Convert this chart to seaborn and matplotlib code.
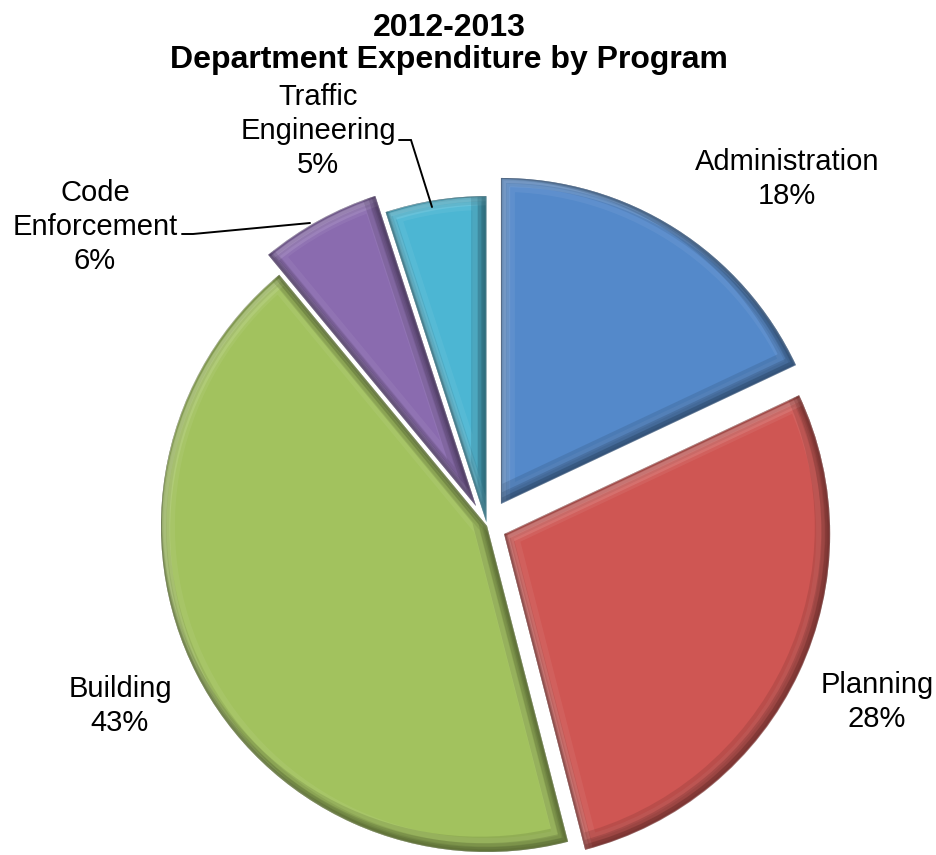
import matplotlib
matplotlib.use("Agg")
import matplotlib.pyplot as plt
import matplotlib.patches as mpatches
import matplotlib.transforms as mtransforms
import matplotlib.colors as mcolors
import seaborn as sns

# Expenditure share by program (percent), clockwise from 12 o'clock
programs = ["Administration", "Planning", "Building", "Code Enforcement", "Traffic Engineering"]
label_text = ["Administration", "Planning", "Building", "Code\nEnforcement", "Traffic\nEngineering"]
shares = [18, 28, 43, 6, 5]
# how far each slice is pulled out, as a fraction of the radius
explode_frac = [0.08, 0.058, 0.0, 0.07, 0.012]
slice_colors = ["#5489CA", "#CF5653", "#A2C25E", "#8A6BAF", "#4CB6D3"]

title = "2012-2013\nDepartment Expenditure by Program"

W, H = 937, 855

sns.set_theme(style="white")
plt.rcParams["font.family"] = ["Liberation Sans", "DejaVu Sans"]

fig = plt.figure(figsize=(W / 100, H / 100), dpi=100)
ax = fig.add_axes([0, 0, 1, 1])


def Y(y):
    """Convert a top-down pixel row to the axis' upward data coordinate."""
    return H - y


cx, cy, R = 487, Y(526), 326

# matplotlib's explode offset is in data units, so scale by the radius
wedges, _ = ax.pie(
    shares,
    explode=[e * R for e in explode_frac],
    colors=slice_colors,
    startangle=90,
    counterclock=False,
    center=(cx, cy),
    radius=R,
    wedgeprops=dict(edgecolor="white", linewidth=1.2),
)
ax.set_xlim(0, W)
ax.set_ylim(0, H)
ax.set_aspect("equal")
ax.axis("off")


def shade(color, f):
    r, g, b = mcolors.to_rgb(color)
    return (r * f, g * f, b * f)


def tint(color, f):
    r, g, b = mcolors.to_rgb(color)
    return (r + (1 - r) * f, g + (1 - g) * f, b + (1 - b) * f)


def edge_stroke(w, color, lw, alpha, offset=(0, 0)):
    """Stroke the outline of wedge w, clipped so only the inner half shows."""
    p = mpatches.Wedge(center=w.center, r=w.r, theta1=w.theta1, theta2=w.theta2,
                       facecolor="none", edgecolor=color, linewidth=lw,
                       alpha=alpha, joinstyle="miter")
    if offset != (0, 0):
        p.set_transform(ax.transData + mtransforms.Affine2D().translate(*offset))
    ax.add_patch(p)
    p.set_clip_path(w)


# Soft bevel on every slice
for w, col in zip(wedges, slice_colors):
    # faint light ridge just inside the rim
    edge_stroke(w, tint(col, 0.4), 20, 0.15)
    # darker outer rim, graded toward the edge
    for lw, a in [(12, 0.18), (8, 0.22), (4, 0.3)]:
        edge_stroke(w, shade(col, 0.6), lw, a)
    # light falls from the upper left
    for off, lw, a in [(5, 6, 0.22), (3, 3, 0.25)]:
        edge_stroke(w, tint(col, 0.5), lw, a, offset=(off, -off))
    # deeper shade on the edges facing the lower right
    for off, lw, a in [(7, 12, 0.18), (4, 7, 0.22), (2, 4, 0.25)]:
        edge_stroke(w, shade(col, 0.45), lw, a, offset=(-off, off))

# Title
ax.text(449, Y(44), title, ha="center", va="center", fontsize=23,
        fontweight="bold", linespacing=1.1, color="black")

# Category labels with percentages
label_pos = [(787, 179), (877, 702), (120, 706), (95, 227), (318, 131)]
for txt, val, (x, y) in zip(label_text, shares, label_pos):
    ax.text(x, Y(y), f"{txt}\n{val}%", ha="center", va="center",
            fontsize=21, linespacing=1.27, color="black")

# Leader lines for the two small slices
ax.plot([399, 411, 432], [Y(140), Y(140), Y(207)], color="black", lw=1.4,
        solid_joinstyle="miter")
ax.plot([182, 193, 310], [Y(234), Y(234), Y(223)], color="black", lw=1.4,
        solid_joinstyle="miter")

fig.savefig("out.png", dpi=100, facecolor="white")
